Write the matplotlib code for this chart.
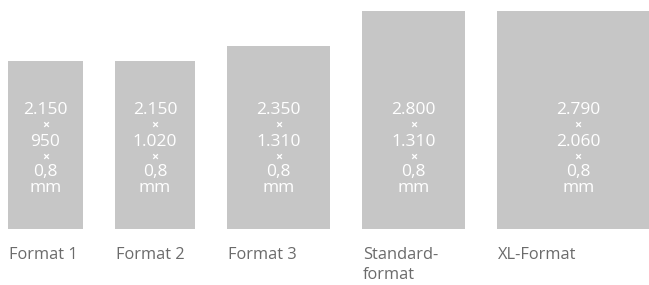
import matplotlib.pyplot as plt
import numpy as np

# Data (mm)
names = ["Format 1", "Format 2", "Format 3", "Standard-\nformat", "XL-Format"]
lengths = [2150, 2150, 2350, 2800, 2790]
widths = [950, 1020, 1310, 1310, 2060]
thickness = "0,8"


def de(n):
    # German thousands separator
    return f"{n:,}".replace(",", ".")


# px per mm in the output image
sx = 0.0789
sy = 0.0781
gap = 31.7 / sx
lefts = np.concatenate([[0], np.cumsum(np.array(widths[:-1]) + gap)])

plt.rcParams['font.family'] = ['Open Sans', 'DejaVu Sans']

fig = plt.figure(figsize=(6.49, 2.85), dpi=100)
ax = fig.add_axes([0, 0, 1, 1])
ax.bar(lefts, lengths, widths, align='edge', color='#c6c6c6', linewidth=0)
ax.set_xlim(-8 / sx, 641 / sx)
ax.set_ylim(-55.7 / sy, 229.3 / sy)
ax.axis('off')


def ypx(p):
    # pixel row (from top) -> data y
    return (229.3 - p) / sy


for x0, w, l, name in zip(lefts, widths, lengths, names):
    cx = x0 + w / 2
    ax.text(cx, ypx(114), de(l), ha='center', va='baseline', color='white', fontsize=12.5)
    ax.text(cx, ypx(125.5), "×", ha='center', va='center', color='white', fontsize=9, fontweight='bold')
    ax.text(cx, ypx(145.5), de(w), ha='center', va='baseline', color='white', fontsize=12.5)
    ax.text(cx, ypx(157.5), "×", ha='center', va='center', color='white', fontsize=9, fontweight='bold')
    ax.text(cx, ypx(175.5), thickness, ha='center', va='baseline', color='white', fontsize=12.5)
    ax.text(cx, ypx(192), "mm", ha='center', va='baseline', color='white', fontsize=12.5)
    for i, line in enumerate(name.split("\n")):
        ax.text(x0 + 1.2 / sx, ypx(259 + 20 * i), line, ha='left', va='baseline',
                color='#6b6b6b', fontsize=11.8)

fig.savefig("out.png", dpi=100)
